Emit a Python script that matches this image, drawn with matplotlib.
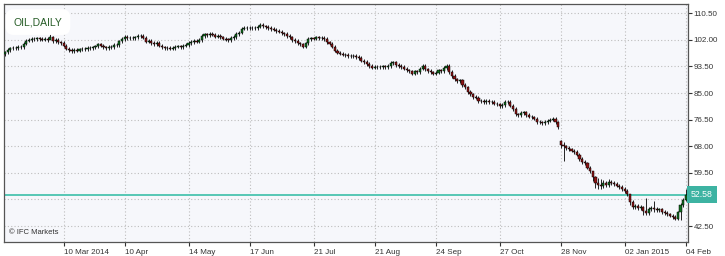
import matplotlib
matplotlib.use('Agg')
import matplotlib.pyplot as plt
import numpy as np

# daily closes, OIL, 06 Feb 2014 .. 04 Feb 2015
closes = [
    98.0, 98.8, 99.3, 99.5, 99.4, 99.7, 99.6, 100.8, 101.8, 102.0,
    102.4, 102.2, 102.5, 102.3, 102.1, 102.4, 102.0, 102.8, 101.6, 101.9,
    101.2, 101.0, 100.2, 99.2, 98.7, 98.4, 98.9, 98.6, 99.0, 99.2,
    99.0, 99.4, 99.3, 99.6, 99.9, 100.6, 100.2, 99.6, 99.3, 99.8,
    99.6, 100.3, 100.4, 101.5, 102.3, 102.9, 102.6, 102.7, 102.5, 102.8,
    103.2, 103.4, 102.7, 101.4, 101.6, 101.0, 100.7, 101.0, 100.2, 99.6,
    99.3, 99.5, 99.2, 99.4, 99.8, 99.9, 99.6, 100.2, 100.3, 101.0,
    101.3, 101.6, 101.4, 101.9, 103.3, 103.8, 103.6, 104.0, 103.7, 103.0,
    103.2, 102.8, 102.4, 102.1, 102.0, 102.6, 102.9, 103.9, 104.3, 105.6,
    105.8, 105.9, 105.7, 105.9, 105.8, 106.2, 106.7, 106.3, 106.1, 105.8,
    105.5, 105.3, 104.9, 104.6, 104.1, 103.9, 103.2, 102.8, 102.0, 101.7,
    100.9, 100.6, 99.8, 100.9, 102.3, 102.5, 102.4, 102.8, 102.6, 102.7,
    102.3, 101.2, 100.8, 99.8, 98.6, 97.9, 97.6, 97.3, 97.1, 96.9,
    96.7, 96.9, 96.6, 96.2, 95.4, 94.9, 94.3, 93.6, 93.1, 93.4,
    93.2, 93.4, 93.5, 93.3, 93.7, 94.6, 94.8, 94.0, 93.7, 93.4,
    92.8, 92.3, 91.9, 91.2, 91.9, 91.6, 92.8, 93.6, 92.6, 92.1,
    91.6, 91.2, 91.5, 92.3, 92.1, 93.0, 93.6, 91.8, 90.4, 89.4,
    88.9, 89.1, 87.6, 86.8, 85.3, 84.6, 83.8, 83.5, 82.4, 82.5,
    82.2, 82.4, 82.0, 82.2, 81.6, 81.4, 80.9, 81.2, 82.1, 82.3,
    81.0, 79.9, 78.2, 77.9, 78.6, 78.8, 78.0, 77.5, 77.2, 76.8,
    75.8, 75.6, 75.4, 75.7, 76.2, 76.5, 76.8, 75.6, 74.0, 68.3,
    68.0, 67.5, 67.0, 66.6, 66.2, 65.3, 63.9, 63.0, 62.5, 61.2,
    60.0, 58.2, 56.2, 55.6, 55.3, 56.2, 55.5, 56.6, 56.3, 56.0,
    55.4, 55.0, 54.4, 53.7, 52.6, 50.3, 48.6, 48.9, 48.2, 48.7,
    47.2, 46.6, 48.0, 48.4, 47.9, 47.5, 47.8, 47.0, 46.6, 46.2,
    45.8, 45.4, 44.9, 46.9, 49.2, 50.9, 52.58,
]
first_open = 97.5
gap_opens = {209: 69.6}   # bar index -> open after a gap
long_wicks = {17: (103.9, 102.3), 209: (69.9, 67.4), 210: (69.3, 63.3),
              221: (59.8, 56.9), 222: (58.4, 54.6), 223: (57.8, 54.2),
              224: (57.4, 54.4), 225: (57.3, 54.8), 227: (57.6, 55.1),
              235: (51.3, 49.2), 240: (48.9, 45.9), 241: (51.6, 45.9),
              244: (50.6, 47.1), 254: (49.8, 44.3), 256: (54.3, 50.6)}

tick_idx = [22, 45, 69, 92, 116, 139, 162, 186, 209, 233, 256]
tick_labels = ['10 Mar 2014', '10 Apr', '14 May', '17 Jun', '21 Jul', '21 Aug',
               '24 Sep', '27 Oct', '28 Nov', '02 Jan 2015', '04 Feb']
price_ticks = [42.50, 51.00, 59.50, 68.00, 76.50, 85.00, 93.50, 102.00, 110.50]
last_price = 52.58

n = len(closes)
x = np.arange(n)
c = np.array(closes)
o = np.r_[first_open, c[:-1]]
for i, v in gap_opens.items():
    o[i] = v
hi = np.maximum(o, c) + 0.55
lo = np.minimum(o, c) - 0.55
for i, (h, l) in long_wicks.items():
    hi[i], lo[i] = h, l

fig = plt.figure(figsize=(7.25, 2.56), dpi=100)
ax = fig.add_axes([4/725, 14/256, 684/725, 238/256])
ax.set_facecolor('#f6f7fb')

ax.vlines(x, lo, hi, color='black', linewidth=0.6, zorder=3)
cols = np.where(c >= o, '#0f6e1e', '#8e1414')
body = np.maximum(np.abs(c - o), 0.15)
ax.bar(x, body, bottom=np.minimum(o, c), width=0.8, color=cols,
       edgecolor='black', linewidth=0.35, zorder=4)

ax.axhline(last_price, color='#56c7b5', linewidth=1.4, zorder=2)

ax.set_xlim(-0.4, 256.8)
ax.set_ylim(37.4, 113.47)
ax.set_xticks(tick_idx)
ax.set_xticklabels(tick_labels, ha='left')
ax.set_yticks(price_ticks)
ax.set_yticklabels([f'{v:.2f}' for v in price_ticks])
ax.yaxis.tick_right()
ax.tick_params(axis='both', labelsize=5.8, colors='#333333', length=3, width=0.8, pad=1)
ax.tick_params(axis='x', pad=2)
for lab in ax.get_xticklabels() + ax.get_yticklabels():
    lab.set_family('Liberation Sans')
ax.grid(True, color='#bdbdbd', linestyle=(0, (1, 2)), linewidth=0.8)
ax.set_axisbelow(True)
for s in ax.spines.values():
    s.set_color('#555555')
    s.set_linewidth(0.9)

ax.text(0.014, 0.945, 'OIL,DAILY', transform=ax.transAxes, fontsize=7.5,
        family='Liberation Sans', color='#265c26', va='top', ha='left',
        bbox=dict(boxstyle='round,pad=0.75', fc='white', ec='none'), zorder=6)
ax.text(0.007, 0.025, '© IFC Markets', transform=ax.transAxes, fontsize=5.5,
        family='Liberation Sans', color='#333333', va='bottom', ha='left')

ax.annotate(f'{last_price:.2f}', xy=(1.0, last_price),
            xycoords=('axes fraction', 'data'), xytext=(2, 0),
            textcoords='offset points', fontsize=6.3, family='Liberation Sans',
            color='white', va='center', ha='left',
            bbox=dict(boxstyle='square,pad=0.45', fc='#3db3a2', ec='none'),
            annotation_clip=False, zorder=10)

fig.savefig('out.png', dpi=100)
